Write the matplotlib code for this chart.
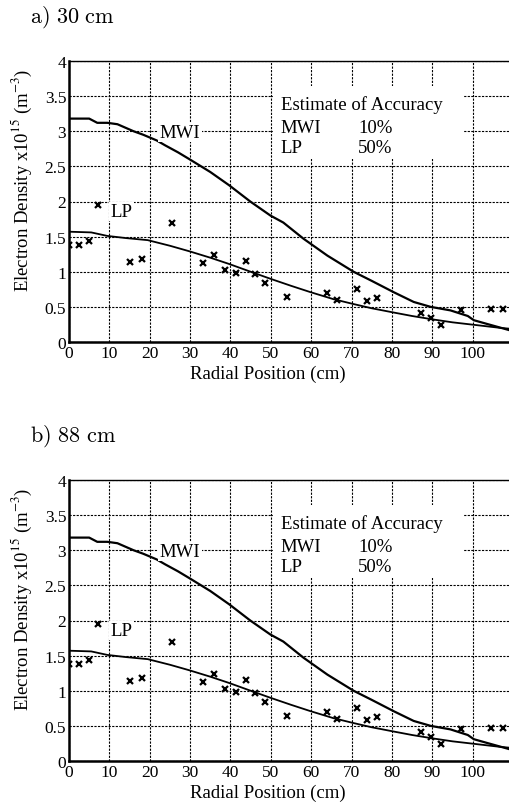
import numpy as np
import matplotlib.pyplot as plt
from matplotlib.patches import Rectangle

# MWI profile
mwi_x = [0, 5, 7, 9.5, 12, 16, 18.4, 21.7, 23.8, 27, 29.9, 35, 39.7, 44.9, 49.9, 53.1,
         58.1, 64, 70.5, 75, 80.4, 85.4, 89.6, 94.5, 98.8, 100.3, 104, 109]
mwi_y = [3.18, 3.18, 3.12, 3.12, 3.1, 3.0, 2.95, 2.87, 2.8, 2.7, 2.6, 2.42, 2.23, 2.0, 1.8, 1.7,
         1.47, 1.23, 1.0, 0.87, 0.71, 0.57, 0.5, 0.45, 0.37, 0.31, 0.25, 0.17]

# LP fitted profile
lpfit_x = [0, 5.5, 9.5, 14, 19.5, 25, 29.9, 35, 39.7, 45, 49.9, 55, 59.8, 65.5, 70.5, 75,
           80.4, 85, 90.3, 95, 101, 107, 109]
lpfit_y = [1.57, 1.56, 1.51, 1.48, 1.45, 1.37, 1.29, 1.2, 1.11, 1.0, 0.9, 0.8, 0.71, 0.61, 0.54, 0.48,
           0.42, 0.37, 0.32, 0.28, 0.24, 0.2, 0.19]

# LP measurements
lp_x = [0, 2.5, 5, 7.3, 15.1, 18, 25.5, 33.3, 35.8, 38.7, 41.4, 43.9, 46.2, 48.6, 54, 63.9,
        66.4, 71.4, 73.7, 76.4, 87.1, 89.6, 92.1, 97, 104.5, 107.4]
lp_y = [1.38, 1.38, 1.44, 1.95, 1.14, 1.18, 1.7, 1.12, 1.24, 1.03, 0.98, 1.15, 0.97, 0.84, 0.64, 0.7,
        0.6, 0.76, 0.59, 0.62, 0.41, 0.34, 0.24, 0.45, 0.47, 0.47]

panels = [r"$\mathrm{a)\ 30\ cm}$", r"$\mathrm{b)\ 88\ cm}$"]
xticks = list(range(0, 101, 10))
yticks = [0, 0.5, 1, 1.5, 2, 2.5, 3, 3.5, 4]
ylabs = ["0", "0.5", "1", "1.5", "2", "2.5", "3", "3.5", "4"]
acc_names = ["MWI", "LP"]
acc_vals = ["10%", "50%"]

plt.rcParams['font.family'] = ['Liberation Serif', 'DejaVu Serif']
plt.rcParams['mathtext.fontset'] = 'stix'

fig = plt.figure(figsize=(5.09, 8.04), dpi=100)
W, H = 509, 804


def draw(ax):
    ax.set_xlim(0, 109)
    ax.set_ylim(0, 4)
    ax.set_xticks(xticks)
    ax.set_yticks(yticks)
    ax.set_yticklabels(ylabs)
    ax.tick_params(length=0, labelsize=12.5, pad=2)
    ax.grid(True, color='black', linestyle=(0, (2, 1.2)), linewidth=0.8, zorder=0)
    ax.set_axisbelow(True)
    for s in ['left', 'bottom']:
        ax.spines[s].set_linewidth(1.8)
    ax.spines['top'].set_linewidth(1.0)
    ax.spines['right'].set_visible(False)

    ax.plot(mwi_x, mwi_y, color='black', lw=1.6, zorder=3)
    ax.plot(lpfit_x, lpfit_y, color='black', lw=1.3, zorder=3)
    ax.plot(lp_x, lp_y, linestyle='none', marker='x', color='black', ms=5, mew=1.6, zorder=4)

    ax.text(27.5, 2.98, "MWI", fontsize=13.5, ha='center', va='center', zorder=5,
            bbox=dict(facecolor='white', edgecolor='none', pad=1))
    ax.text(13, 1.86, "LP", fontsize=13.5, ha='center', va='center', zorder=5,
            bbox=dict(facecolor='white', edgecolor='none', pad=1))

    # accuracy box
    ax.add_patch(Rectangle((50.6, 2.6), 47.2, 1.05, facecolor='white', edgecolor='none', zorder=4))
    ax.text(52.5, 3.39, "Estimate of Accuracy", fontsize=13.5, ha='left', va='center', zorder=5)
    for j in range(len(acc_names)):
        yy = 3.06 - j * 0.29
        ax.text(52.5, yy, acc_names[j], fontsize=13.5, ha='left', va='center', zorder=5)
        ax.text(71.6, yy, acc_vals[j], fontsize=13.5, ha='left', va='center', zorder=5)

    ax.set_xlabel("Radial Position (cm)", fontsize=13.5)
    ax.xaxis.set_label_coords((268 - 69) / (W - 69), -0.08)
    ax.set_ylabel("Electron Density x10$^{15}$ (m$^{-3}$)", fontsize=13.5)
    ax.yaxis.set_label_coords(-0.08, 0.58)


tops = [62, 481]
bottoms = [343, 762]
for i, name in enumerate(panels):
    ax = fig.add_axes([69 / W, 1 - bottoms[i] / H, 1 - 69 / W, (bottoms[i] - tops[i]) / H])
    draw(ax)
    fig.text(30 / W, 1 - (tops[i] - 45) / H, name, fontsize=16, ha='left', va='center',
             math_fontfamily='cm')

fig.savefig("out.png", dpi=100)
